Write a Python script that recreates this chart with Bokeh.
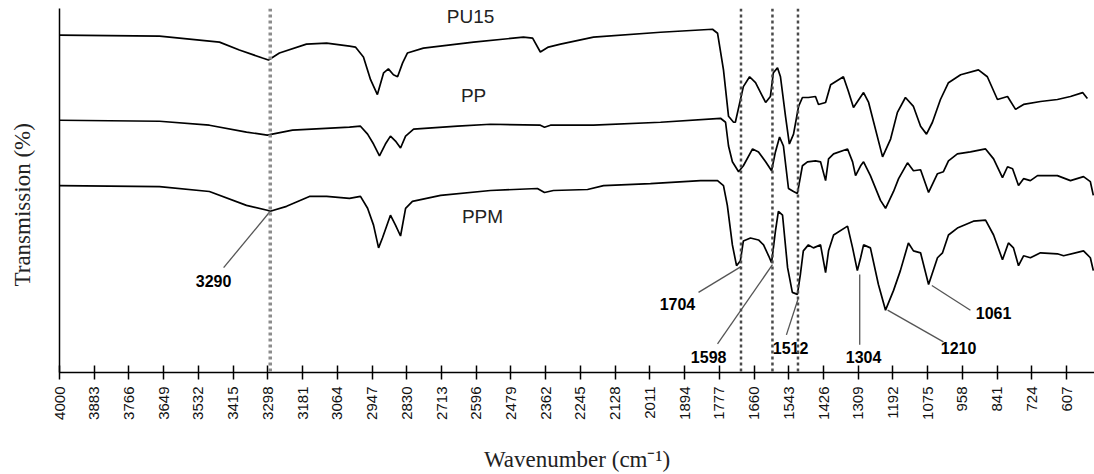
import math
from bokeh.plotting import figure
from bokeh.models import Range1d, FixedTicker, Span, Title
from bokeh.core.properties import value
from bokeh.embed import file_html
from bokeh.resources import INLINE

# ---- data (wavenumber in cm-1, transmission in arbitrary offset units) ----
wn_pu15 = [4000, 3663, 3461, 3394, 3316, 3296, 3259, 3168, 3100, 3023, 3003, 2976, 2952, 2929,
           2908, 2892, 2875, 2861, 2844, 2828, 2774, 2605, 2437, 2406, 2380, 2353, 2312, 2201,
           1975, 1800, 1783, 1763, 1746, 1729, 1723, 1696, 1675, 1655, 1621, 1605, 1595, 1581,
           1571, 1554, 1541, 1527, 1510, 1497, 1477, 1453, 1443, 1419, 1402, 1359, 1342, 1325,
           1291, 1274, 1227, 1200, 1177, 1150, 1123, 1099, 1079, 1059, 1032, 1005, 964, 904,
           874, 840, 806, 779, 752, 695, 638, 594, 553, 537]
t_pu15 = [341, 340, 334, 326, 318, 316, 323, 332, 333, 330, 329, 319, 296, 281,
          303, 307, 301, 299, 313, 323, 328, 334, 339, 338, 324, 329, 332, 339,
          344, 347, 343, 306, 259, 253, 253, 289, 299, 293, 273, 279, 303, 308,
          299, 259, 231, 241, 269, 278, 278, 279, 271, 273, 291, 299, 284, 268,
          283, 273, 218, 236, 263, 278, 269, 249, 241, 253, 276, 293, 301, 306,
          299, 276, 279, 266, 271, 274, 276, 279, 283, 277]

wn_pp = [4000, 3663, 3495, 3370, 3300, 3215, 3023, 2986, 2962, 2942, 2922, 2902, 2885, 2868,
         2851, 2834, 2807, 2659, 2548, 2380, 2366, 2346, 2201, 1975, 1773, 1756, 1746, 1733,
         1712, 1696, 1665, 1645, 1621, 1601, 1588, 1574, 1561, 1544, 1527, 1514, 1497, 1480,
         1453, 1436, 1419, 1409, 1392, 1345, 1328, 1318, 1301, 1291, 1268, 1234, 1217, 1190,
         1173, 1143, 1123, 1099, 1072, 1042, 1022, 1005, 975, 931, 880, 853, 823, 806,
         789, 769, 752, 729, 705, 638, 594, 550, 527, 517]
t_pp = [255, 254, 250, 243, 240, 245, 248, 249, 241, 231, 219, 231, 239, 234,
        227, 239, 246, 249, 251, 250, 248, 250, 250, 253, 257, 253, 229, 213,
        203, 209, 226, 223, 213, 204, 223, 238, 229, 186, 183, 181, 209, 213,
        214, 213, 194, 216, 221, 226, 213, 199, 209, 213, 199, 174, 166, 183,
        196, 212, 204, 205, 182, 201, 203, 214, 221, 223, 226, 216, 197, 208,
        206, 189, 196, 194, 199, 199, 194, 198, 193, 179]

wn_ppm = [4000, 3663, 3495, 3370, 3300, 3290, 3235, 3158, 3100, 3023, 2986, 2962, 2942, 2925,
          2912, 2885, 2868, 2851, 2834, 2811, 2716, 2548, 2390, 2366, 2336, 2221, 2167, 2009,
          1840, 1783, 1763, 1750, 1733, 1719, 1706, 1696, 1672, 1645, 1628, 1611, 1601, 1588,
          1578, 1564, 1547, 1531, 1514, 1504, 1494, 1477, 1460, 1436, 1419, 1409, 1392, 1345,
          1328, 1312, 1301, 1291, 1268, 1241, 1217, 1190, 1167, 1140, 1123, 1099, 1072, 1042,
          1025, 1005, 975, 921, 880, 853, 823, 803, 786, 769, 752, 729, 695, 638, 617, 550,
          527, 517]
t_ppm = [189, 188, 183, 169, 164, 163, 168, 178, 178, 176, 178, 166, 149, 126,
         136, 159, 149, 138, 166, 173, 179, 184, 186, 182, 184, 185, 189, 191,
         194, 194, 189, 169, 129, 108, 113, 133, 136, 134, 129, 118, 111, 143,
         163, 159, 106, 81, 79, 99, 123, 129, 126, 129, 101, 123, 139, 148,
         126, 103, 116, 129, 126, 89, 63, 83, 103, 131, 123, 121, 89, 116,
         121, 139, 146, 153, 154, 139, 114, 131, 126, 108, 118, 116, 121, 120, 118, 123,
         116, 103]

tick_values = [4000, 3883, 3766, 3649, 3532, 3415, 3298, 3181, 3064, 2947, 2830, 2713, 2596,
               2479, 2362, 2245, 2128, 2011, 1894, 1777, 1660, 1543, 1426, 1309, 1192, 1075,
               958, 841, 724, 607]

series_names = ["PU15", "PP", "PPM"]
series_label_x = [2615, 2605, 2575]
series_label_y = [360, 280, 158]

marked_peaks = [3290, 1704, 1598, 1512]
peak_labels = [3290, 1704, 1598, 1512, 1304, 1210, 1061]
peak_t = [163, 107, 109, 74, 99, 63, 88]
label_x = [3481, 1918, 1813, 1537, 1291, 971, 853]
label_y = [93, 69, 16, 25, 16, 25, 60]
leader_x = [3447, 1847, 1783, 1551, 1304, 1022, 931]
leader_y = [106, 81, 29, 38, 28, 31, 63]

# ---- figure ----
p = figure(width=1094, height=474, output_backend="svg", toolbar_location=None,
           x_range=Range1d(4000, 513), y_range=Range1d(0, 368),
           min_border_left=59, min_border_right=0, min_border_top=8, min_border_bottom=98)
p.outline_line_color = None
p.xgrid.visible = False
p.ygrid.visible = False
p.background_fill_color = "white"
p.border_fill_color = "white"

# x axis
xa = p.xaxis[0]
xa.ticker = FixedTicker(ticks=tick_values)
xa.minor_tick_line_color = None
xa.major_tick_in = 7
xa.major_tick_out = 7
xa.major_tick_line_width = 1.5
xa.major_tick_line_color = "black"
xa.axis_line_width = 1.5
xa.axis_line_color = "black"
xa.major_label_orientation = math.pi / 2
xa.major_label_standoff = 7
xa.major_label_text_font = "Liberation Sans"
xa.major_label_text_font_size = "15px"
xa.major_label_text_color = "#111111"
xa.axis_label = "Wavenumber (cm\u207b\u00b9)"
xa.axis_label_text_font = "Liberation Serif"
xa.axis_label_text_font_style = "normal"
xa.axis_label_text_font_size = "23px"
xa.axis_label_text_color = "#222222"
xa.axis_label_standoff = 24

# y axis: line only (a blank label reserves a little room before the title)
ya = p.yaxis[0]
ya.ticker = FixedTicker(ticks=[])
ya.minor_tick_line_color = None
ya.major_tick_line_color = None
ya.major_tick_in = 0
ya.major_tick_out = 0
ya.major_label_standoff = 0
ya.axis_line_width = 1.5
ya.axis_line_color = "black"
ya.axis_label = " "
ya.axis_label_text_font_size = "1px"
ya.axis_label_standoff = 16

# y title on the left, starting a bit above the frame bottom
p.add_layout(Title(text="Transmission (%)", align="left", offset=86,
                   text_font="Liberation Serif", text_font_size="23px",
                   text_font_style="normal", text_color="#222222"), "left")

# dotted reference lines
for i, v in enumerate(marked_peaks):
    if i == 0:
        s = Span(location=v, dimension="height", line_color="#8c8c8c",
                 line_width=3.5, line_dash="3 3")
    else:
        s = Span(location=v, dimension="height", line_color="#4a4a4a",
                 line_width=2.5, line_dash="3 3")
    p.add_layout(s)

# spectra
for xs, ys in [(wn_pu15, t_pu15), (wn_pp, t_pp), (wn_ppm, t_ppm)]:
    p.line(xs, ys, line_color="black", line_width=1.7)

# series names
p.text(x=series_label_x, y=series_label_y, text=series_names,
       text_font=value("Liberation Sans"), text_font_size="19px", text_color="#222222",
       text_align="center", text_baseline="middle")

# peak annotations
p.segment(x0=leader_x, y0=leader_y, x1=peak_labels, y1=peak_t,
          line_color="#555555", line_width=1.3)
p.text(x=label_x, y=label_y, text=[str(v) for v in peak_labels],
       text_font=value("Liberation Sans"), text_font_style="bold",
       text_font_size="16px", text_color="black",
       text_align="center", text_baseline="middle")

open("out.html", "w").write(file_html(p, INLINE))
